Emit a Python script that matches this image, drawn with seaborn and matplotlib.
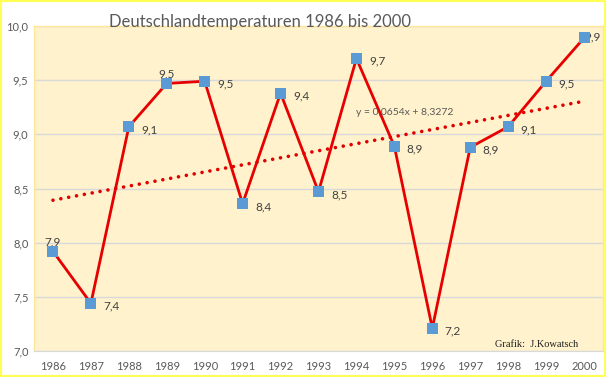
import matplotlib
matplotlib.use("Agg")
import matplotlib.pyplot as plt
import seaborn as sns
from matplotlib.patches import Rectangle
from matplotlib.ticker import FuncFormatter

# Data
years = list(range(1986, 2001))
temps = [7.92, 7.44, 9.07, 9.47, 9.49, 8.36, 9.38, 8.47, 9.70, 8.89,
         7.21, 8.88, 9.07, 9.49, 9.89]
title = "Deutschlandtemperaturen 1986 bis 2000"
trend_text = "y = 0,0654x + 8,3272"
credit = "Grafik:  J.Kowatsch"

sns.set_style("white")
plt.rcParams['font.family'] = ['Lato', 'DejaVu Sans']

fig = plt.figure(figsize=(6.06, 3.77), dpi=100)
ax = fig.add_axes([34 / 606, 26 / 377, (603 - 34) / 606, (351 - 26) / 377])
ax.set_facecolor('#FFF2CC')

# trend line (linear fit)
sns.regplot(x=years, y=temps, ax=ax, scatter=False, ci=None, truncate=True,
            line_kws=dict(color='#E00000', lw=2.6, linestyle=(0, (0.01, 2.2)),
                          dash_capstyle='round', zorder=2))

# main series
sns.lineplot(x=years, y=temps, ax=ax, color='#E60000', lw=2, zorder=3)
sns.scatterplot(x=years, y=temps, ax=ax, marker='s', s=62, color='#5B9BD5',
                edgecolor='none', zorder=4)

# value labels
for yr, t in zip(years, temps):
    lbl = f"{t:.1f}".replace('.', ',')
    if yr in (1986, 1989):
        ax.annotate(lbl, (yr, t), xytext=(0, 3), textcoords='offset points',
                    ha='center', va='bottom', fontsize=8.5, color='#404040')
    elif yr == 2000:
        ax.annotate(lbl, (yr, t), xytext=(0, 1), textcoords='offset points',
                    ha='left', va='center', fontsize=8.5, color='#404040')
    else:
        ax.annotate(lbl, (yr, t), xytext=(9, -2), textcoords='offset points',
                    ha='left', va='center', fontsize=8.5, color='#404040')

ax.set_xlim(1985.5, 2000.5)
ax.set_ylim(7.0, 10.0)
ax.set_xticks(years)
ax.set_yticks([7.0, 7.5, 8.0, 8.5, 9.0, 9.5, 10.0])
ax.yaxis.set_major_formatter(FuncFormatter(lambda v, p: f"{v:.1f}".replace('.', ',')))
ax.tick_params(axis='both', length=0, labelsize=8, labelcolor='#595959')
ax.tick_params(axis='x', pad=7)
ax.tick_params(axis='y', pad=4)
ax.grid(axis='y', color='#D9D9D9', lw=1)
ax.set_axisbelow(True)
for side in ('left', 'top', 'right'):
    ax.spines[side].set_color('#FFE699')
    ax.spines[side].set_linewidth(1)
ax.spines['bottom'].set_color('#D9D9D9')
ax.set_xlabel('')
ax.set_ylabel('')

ax.text(1994.0, 9.2, trend_text, fontsize=7.5, color='#595959', ha='left', va='center')
ax.text(1997.65, 7.06, credit, fontsize=7.5, color='#202020', ha='left', va='center',
        family='Liberation Serif')

fig.text(260 / 606, 1 - 22 / 377, title, fontsize=12, color='#595959',
         ha='center', va='center')

fig.patches.append(Rectangle((0, 0), 1, 1, transform=fig.transFigure, fill=False,
                             edgecolor='#FFFF55', lw=3, clip_on=False))

fig.savefig('out.png', dpi=100)
